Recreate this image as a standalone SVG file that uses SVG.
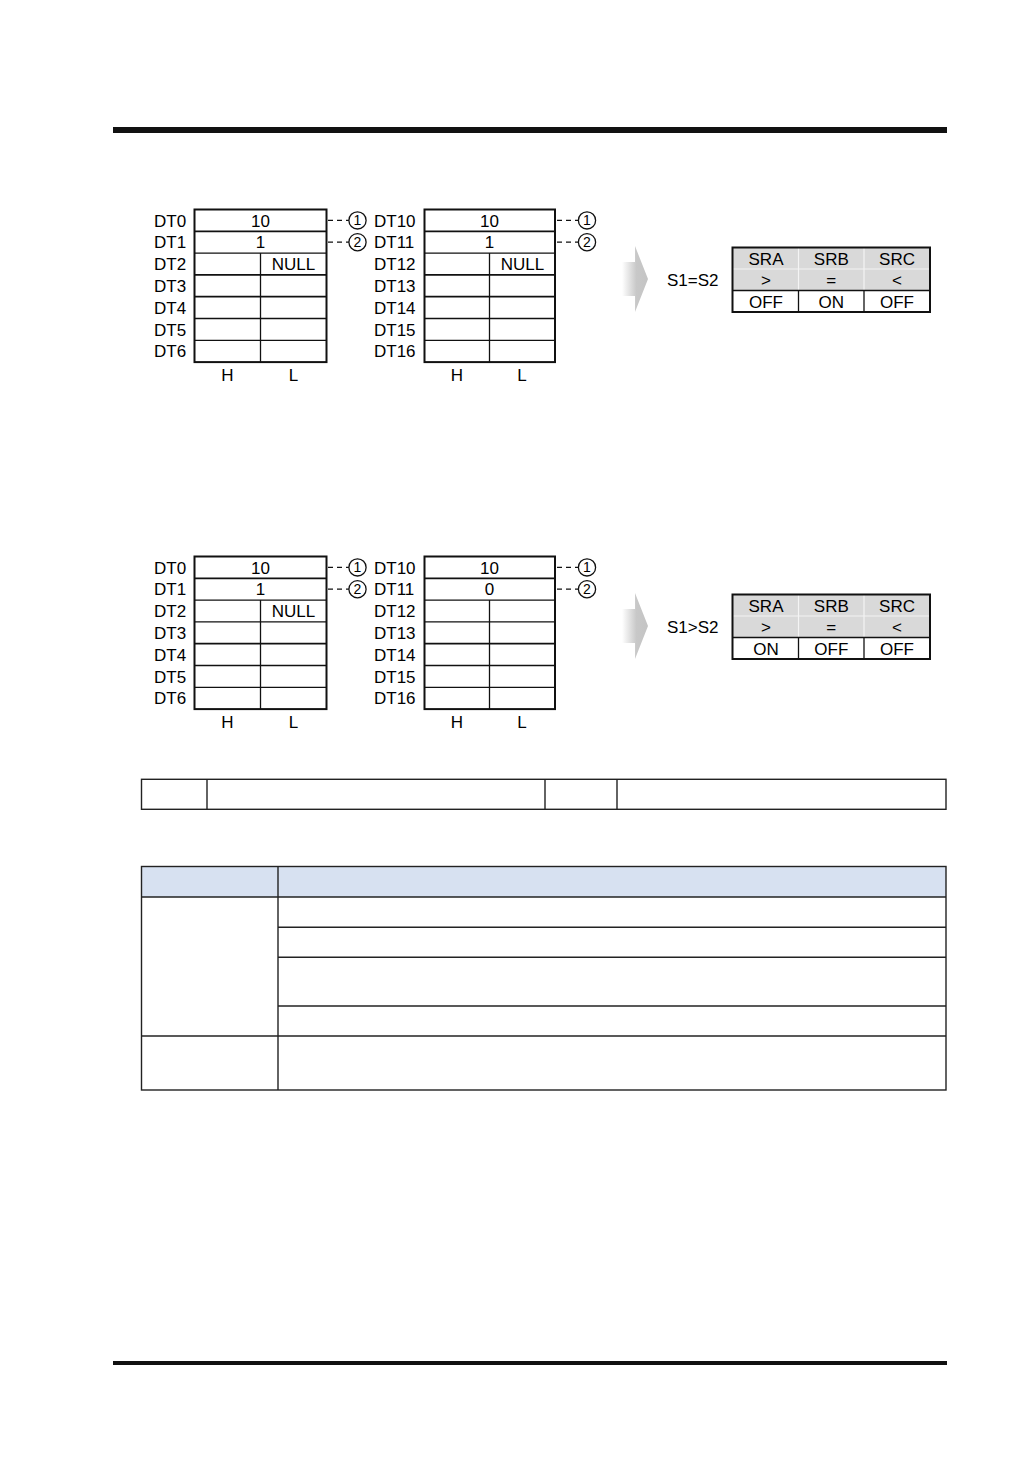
<svg xmlns="http://www.w3.org/2000/svg" width="1032" height="1457" viewBox="0 0 1032 1457">
<defs>
<style>
.t{font-family:"Liberation Sans",Arial,sans-serif;font-size:17px;fill:#000}
.m{text-anchor:middle}
.ln{stroke:#111;stroke-width:1.3;fill:none}
.lt{stroke:#111;stroke-width:1.8;fill:none}
.bx{stroke:#111;stroke-width:2;fill:none}
.dash{stroke:#111;stroke-width:1.3;stroke-dasharray:5,4;fill:none}
.circ{fill:#fff;stroke:#111;stroke-width:1.3}
.cn{font-size:14px}
.gr{fill:#d9d9d9}
.wl{stroke:#f4f4f4;stroke-width:1.2}
.tb{stroke:#222;stroke-width:1.4;fill:none}
.hd{fill:#d7e1f1}
</style>
<linearGradient id="arrowGrad" x1="622" y1="0" x2="648" y2="0" gradientUnits="userSpaceOnUse">
<stop offset="0" stop-color="#ffffff"/>
<stop offset="0.55" stop-color="#c8c8c8"/>
<stop offset="1" stop-color="#c4c4c4"/>
</linearGradient>
</defs>
<rect width="1032" height="1457" fill="#fff"/>

<g id="page-rules">
<rect x="113" y="127" width="834" height="6" fill="#111"/>
<rect x="113" y="1361" width="834" height="4" fill="#111"/>
</g>

<!-- ===== Example 1 ===== -->
<g id="ex1-s1">
<text class="t" x="154" y="226.5">DT0</text>
<text class="t" x="154" y="248.3">DT1</text>
<text class="t" x="154" y="270.1">DT2</text>
<text class="t" x="154" y="291.9">DT3</text>
<text class="t" x="154" y="313.7">DT4</text>
<text class="t" x="154" y="335.5">DT5</text>
<text class="t" x="154" y="357.3">DT6</text>
<rect class="bx" x="194.5" y="209.5" width="132" height="152.6"/>
<line class="lt" x1="194.5" y1="231.3" x2="326.5" y2="231.3"/>
<line class="ln" x1="194.5" y1="253.1" x2="326.5" y2="253.1"/>
<line class="lt" x1="194.5" y1="274.9" x2="326.5" y2="274.9"/>
<line class="lt" x1="194.5" y1="296.7" x2="326.5" y2="296.7"/>
<line class="ln" x1="194.5" y1="318.5" x2="326.5" y2="318.5"/>
<line class="ln" x1="194.5" y1="340.3" x2="326.5" y2="340.3"/>
<line class="ln" x1="260.5" y1="253.1" x2="260.5" y2="362.1"/>
<text class="t m" x="260.5" y="226.5">10</text>
<text class="t m" x="260.5" y="248.3">1</text>
<text class="t m" x="293.5" y="270.1">NULL</text>
<text class="t m" x="227.5" y="380.5">H</text>
<text class="t m" x="293.5" y="380.5">L</text>
<line class="dash" x1="328" y1="220.4" x2="349" y2="220.4"/>
<circle class="circ" cx="357.5" cy="220.4" r="8.6"/>
<text class="t m cn" x="357.5" y="225.3">1</text>
<line class="dash" x1="328" y1="242.2" x2="349" y2="242.2"/>
<circle class="circ" cx="357.5" cy="242.2" r="8.6"/>
<text class="t m cn" x="357.5" y="247.1">2</text>
</g>

<g id="ex1-s2">
<text class="t" x="374" y="226.5">DT10</text>
<text class="t" x="374" y="248.3">DT11</text>
<text class="t" x="374" y="270.1">DT12</text>
<text class="t" x="374" y="291.9">DT13</text>
<text class="t" x="374" y="313.7">DT14</text>
<text class="t" x="374" y="335.5">DT15</text>
<text class="t" x="374" y="357.3">DT16</text>
<rect class="bx" x="424.5" y="209.5" width="130.5" height="152.6"/>
<line class="lt" x1="424.5" y1="231.3" x2="555" y2="231.3"/>
<line class="ln" x1="424.5" y1="253.1" x2="555" y2="253.1"/>
<line class="lt" x1="424.5" y1="274.9" x2="555" y2="274.9"/>
<line class="lt" x1="424.5" y1="296.7" x2="555" y2="296.7"/>
<line class="ln" x1="424.5" y1="318.5" x2="555" y2="318.5"/>
<line class="ln" x1="424.5" y1="340.3" x2="555" y2="340.3"/>
<line class="ln" x1="489.5" y1="253.1" x2="489.5" y2="362.1"/>
<text class="t m" x="489.5" y="226.5">10</text>
<text class="t m" x="489.5" y="248.3">1</text>
<text class="t m" x="522.5" y="270.1">NULL</text>
<text class="t m" x="457" y="380.5">H</text>
<text class="t m" x="522" y="380.5">L</text>
<line class="dash" x1="557" y1="220.4" x2="578" y2="220.4"/>
<circle class="circ" cx="587" cy="220.4" r="8.6"/>
<text class="t m cn" x="587" y="225.3">1</text>
<line class="dash" x1="557" y1="242.2" x2="578" y2="242.2"/>
<circle class="circ" cx="587" cy="242.2" r="8.6"/>
<text class="t m cn" x="587" y="247.1">2</text>
</g>

<g id="ex1-arrow">
<polygon points="622,262 635,262 635,246 648,279 635,312 635,296 622,296" fill="url(#arrowGrad)"/>
</g>

<g id="ex1-result">
<text class="t" x="667" y="285.8">S1=S2</text>
<rect class="gr" x="732.5" y="247.5" width="197.5" height="43"/>
<line class="wl" x1="732.5" y1="269" x2="930" y2="269"/>
<line class="wl" x1="798.5" y1="247.5" x2="798.5" y2="290.5"/>
<line class="wl" x1="864" y1="247.5" x2="864" y2="290.5"/>
<line class="ln" x1="732.5" y1="290.5" x2="930" y2="290.5"/>
<line class="ln" x1="798.5" y1="290.5" x2="798.5" y2="312"/>
<line class="ln" x1="864" y1="290.5" x2="864" y2="312"/>
<rect class="bx" x="732.5" y="247.5" width="197.5" height="64.5"/>
<text class="t m" x="766" y="264.5">SRA</text>
<text class="t m" x="831.3" y="264.5">SRB</text>
<text class="t m" x="897" y="264.5">SRC</text>
<text class="t m" x="766" y="286">&gt;</text>
<text class="t m" x="831.3" y="286">=</text>
<text class="t m" x="897" y="286">&lt;</text>
<text class="t m" x="766" y="307.5">OFF</text>
<text class="t m" x="831.3" y="307.5">ON</text>
<text class="t m" x="897" y="307.5">OFF</text>
</g>

<!-- ===== Example 2 ===== -->
<g id="ex2-s1" transform="translate(0,347)">
<text class="t" x="154" y="226.5">DT0</text>
<text class="t" x="154" y="248.3">DT1</text>
<text class="t" x="154" y="270.1">DT2</text>
<text class="t" x="154" y="291.9">DT3</text>
<text class="t" x="154" y="313.7">DT4</text>
<text class="t" x="154" y="335.5">DT5</text>
<text class="t" x="154" y="357.3">DT6</text>
<rect class="bx" x="194.5" y="209.5" width="132" height="152.6"/>
<line class="lt" x1="194.5" y1="231.3" x2="326.5" y2="231.3"/>
<line class="ln" x1="194.5" y1="253.1" x2="326.5" y2="253.1"/>
<line class="ln" x1="194.5" y1="274.9" x2="326.5" y2="274.9"/>
<line class="lt" x1="194.5" y1="296.7" x2="326.5" y2="296.7"/>
<line class="ln" x1="194.5" y1="318.5" x2="326.5" y2="318.5"/>
<line class="ln" x1="194.5" y1="340.3" x2="326.5" y2="340.3"/>
<line class="ln" x1="260.5" y1="253.1" x2="260.5" y2="362.1"/>
<text class="t m" x="260.5" y="226.5">10</text>
<text class="t m" x="260.5" y="248.3">1</text>
<text class="t m" x="293.5" y="270.1">NULL</text>
<text class="t m" x="227.5" y="380.5">H</text>
<text class="t m" x="293.5" y="380.5">L</text>
<line class="dash" x1="328" y1="220.4" x2="349" y2="220.4"/>
<circle class="circ" cx="357.5" cy="220.4" r="8.6"/>
<text class="t m cn" x="357.5" y="225.3">1</text>
<line class="dash" x1="328" y1="242.2" x2="349" y2="242.2"/>
<circle class="circ" cx="357.5" cy="242.2" r="8.6"/>
<text class="t m cn" x="357.5" y="247.1">2</text>
</g>

<g id="ex2-s2" transform="translate(0,347)">
<text class="t" x="374" y="226.5">DT10</text>
<text class="t" x="374" y="248.3">DT11</text>
<text class="t" x="374" y="270.1">DT12</text>
<text class="t" x="374" y="291.9">DT13</text>
<text class="t" x="374" y="313.7">DT14</text>
<text class="t" x="374" y="335.5">DT15</text>
<text class="t" x="374" y="357.3">DT16</text>
<rect class="bx" x="424.5" y="209.5" width="130.5" height="152.6"/>
<line class="lt" x1="424.5" y1="231.3" x2="555" y2="231.3"/>
<line class="ln" x1="424.5" y1="253.1" x2="555" y2="253.1"/>
<line class="ln" x1="424.5" y1="274.9" x2="555" y2="274.9"/>
<line class="lt" x1="424.5" y1="296.7" x2="555" y2="296.7"/>
<line class="ln" x1="424.5" y1="318.5" x2="555" y2="318.5"/>
<line class="ln" x1="424.5" y1="340.3" x2="555" y2="340.3"/>
<line class="ln" x1="489.5" y1="253.1" x2="489.5" y2="362.1"/>
<text class="t m" x="489.5" y="226.5">10</text>
<text class="t m" x="489.5" y="248.3">0</text>
<text class="t m" x="457" y="380.5">H</text>
<text class="t m" x="522" y="380.5">L</text>
<line class="dash" x1="557" y1="220.4" x2="578" y2="220.4"/>
<circle class="circ" cx="587" cy="220.4" r="8.6"/>
<text class="t m cn" x="587" y="225.3">1</text>
<line class="dash" x1="557" y1="242.2" x2="578" y2="242.2"/>
<circle class="circ" cx="587" cy="242.2" r="8.6"/>
<text class="t m cn" x="587" y="247.1">2</text>
</g>

<g id="ex2-arrow" transform="translate(0,347)">
<polygon points="622,262 635,262 635,246 648,279 635,312 635,296 622,296" fill="url(#arrowGrad)"/>
</g>

<g id="ex2-result" transform="translate(0,347)">
<text class="t" x="667" y="285.8">S1&gt;S2</text>
<rect class="gr" x="732.5" y="247.5" width="197.5" height="43"/>
<line class="wl" x1="732.5" y1="269" x2="930" y2="269"/>
<line class="wl" x1="798.5" y1="247.5" x2="798.5" y2="290.5"/>
<line class="wl" x1="864" y1="247.5" x2="864" y2="290.5"/>
<line class="ln" x1="732.5" y1="290.5" x2="930" y2="290.5"/>
<line class="ln" x1="798.5" y1="290.5" x2="798.5" y2="312"/>
<line class="ln" x1="864" y1="290.5" x2="864" y2="312"/>
<rect class="bx" x="732.5" y="247.5" width="197.5" height="64.5"/>
<text class="t m" x="766" y="264.5">SRA</text>
<text class="t m" x="831.3" y="264.5">SRB</text>
<text class="t m" x="897" y="264.5">SRC</text>
<text class="t m" x="766" y="286">&gt;</text>
<text class="t m" x="831.3" y="286">=</text>
<text class="t m" x="897" y="286">&lt;</text>
<text class="t m" x="766" y="307.5">ON</text>
<text class="t m" x="831.3" y="307.5">OFF</text>
<text class="t m" x="897" y="307.5">OFF</text>
</g>

<!-- ===== Bottom tables ===== -->
<g id="table-a">
<rect class="tb" x="141.5" y="779.3" width="804.5" height="30"/>
<line class="tb" x1="207" y1="779.3" x2="207" y2="809.3"/>
<line class="tb" x1="545" y1="779.3" x2="545" y2="809.3"/>
<line class="tb" x1="617" y1="779.3" x2="617" y2="809.3"/>
</g>

<g id="table-b">
<rect class="hd" x="141.5" y="866.5" width="804.5" height="30.5"/>
<rect class="tb" x="141.5" y="866.5" width="804.5" height="223.5"/>
<line class="tb" x1="278" y1="866.5" x2="278" y2="1090"/>
<line class="tb" x1="141.5" y1="897" x2="946" y2="897"/>
<line class="tb" x1="278" y1="927.3" x2="946" y2="927.3"/>
<line class="tb" x1="278" y1="957.3" x2="946" y2="957.3"/>
<line class="tb" x1="278" y1="1006" x2="946" y2="1006"/>
<line class="tb" x1="141.5" y1="1036" x2="946" y2="1036"/>
</g>
</svg>
